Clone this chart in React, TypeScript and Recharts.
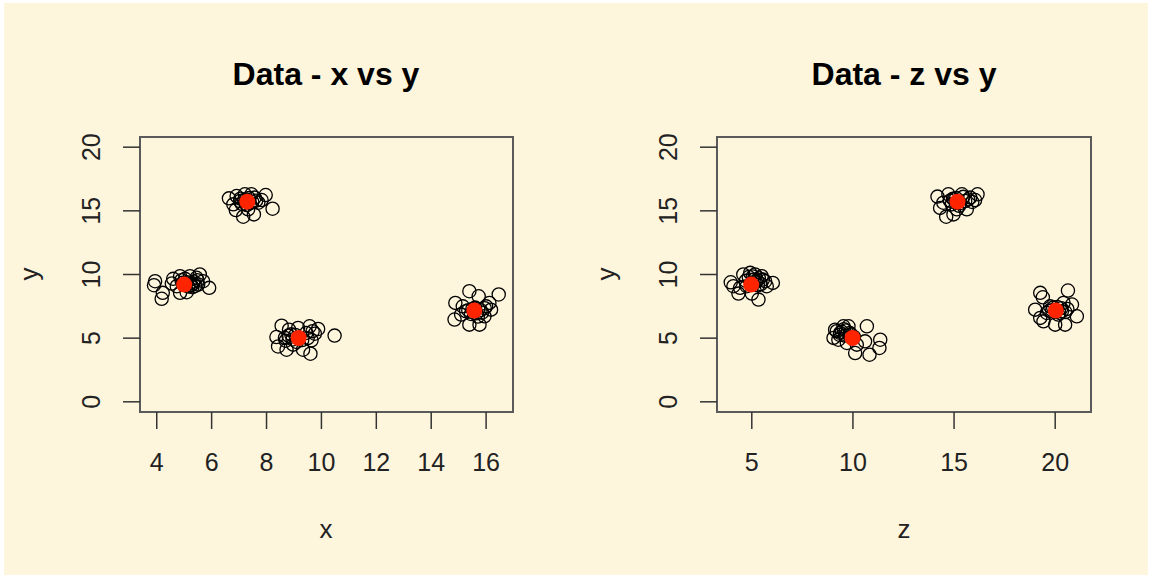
import React from "react";
import { ScatterChart, Scatter, XAxis, YAxis, ReferenceArea } from "recharts";

// ---- Data: panel 1 (x vs y) ----
const xyX = [
  3.94, 3.90, 4.22, 4.18, 4.55, 4.85, 4.85, 5.09, 5.21, 5.57, 5.51, 5.69, 5.91, 5.33, 4.73, 5.03, 5.45, 4.60, 4.95, 5.15, 5.35, 5.25,
  5.40, 5.48, 5.20, 4.90, 5.30, 5.10,
  6.63, 6.88, 7.15, 7.54, 7.97, 8.22, 7.21, 7.03, 7.70, 7.45, 6.79, 7.82, 7.33, 6.91, 7.57, 7.25, 7.40, 7.10,
  7.18, 7.36, 7.48, 7.05, 7.62, 7.28,
  8.55, 8.36, 8.42, 8.73, 8.82, 9.15, 9.57, 9.88, 9.64, 9.33, 9.60, 10.48, 8.97, 8.67, 9.45, 9.76, 9.05, 9.30, 8.90,
  8.80, 8.95, 9.10, 8.70, 9.50, 9.68,
  14.88, 14.85, 15.39, 15.73, 16.46, 16.18, 16.12, 15.76, 15.39, 15.09, 15.15, 15.94, 15.27, 16.00, 15.50, 15.65, 15.80,
  15.45, 15.60, 15.85, 15.35, 15.70, 15.95,
];
const xyY = [
  9.47, 9.16, 8.56, 8.09, 9.29, 9.87, 8.56, 8.61, 9.87, 10.0, 9.21, 9.47, 8.95, 9.29, 9.08, 9.66, 9.74, 9.66, 9.35, 9.05, 9.45, 9.15,
  9.10, 9.55, 9.30, 9.55, 9.00, 9.40,
  15.98, 15.06, 14.54, 14.72, 16.24, 15.17, 16.30, 15.77, 15.64, 16.30, 15.51, 15.85, 15.12, 16.16, 16.04, 15.90, 15.60, 15.55,
  15.85, 16.00, 15.70, 15.95, 15.80, 15.45,
  5.98, 5.09, 4.35, 4.09, 5.67, 5.80, 5.93, 5.72, 4.83, 4.09, 3.78, 5.20, 4.49, 5.02, 5.41, 5.35, 5.25, 4.85, 5.30,
  5.20, 4.90, 4.70, 4.80, 5.00, 5.55,
  7.77, 6.46, 8.69, 8.29, 8.43, 7.24, 7.77, 6.06, 6.06, 6.85, 7.50, 6.72, 7.11, 7.50, 7.30, 6.95, 7.20,
  6.90, 7.40, 7.00, 7.20, 6.70, 7.35,
];

// ---- Data: panel 2 (z vs y) ----
const zyZ = [
  3.96, 4.34, 4.58, 4.92, 5.33, 5.00, 5.74, 6.04, 5.49, 4.09, 4.75, 5.25, 4.42, 5.16, 5.66, 5.10, 5.35, 4.85,
  5.20, 5.45, 4.70, 5.55, 5.05, 5.30,
  14.18, 14.31, 14.61, 14.97, 15.63, 16.16, 16.04, 14.72, 15.39, 15.80, 14.47, 15.14, 15.55, 14.89, 15.00, 15.30, 15.45,
  14.80, 15.10, 15.70, 15.90, 15.25, 14.95,
  9.04, 9.12, 9.53, 9.78, 10.69, 10.60, 10.11, 10.82, 11.35, 11.31, 9.37, 10.19, 9.70, 9.28, 9.45, 9.60, 9.90,
  9.20, 9.35, 9.55, 9.85, 10.05, 9.65,
  19.26, 19.39, 19.01, 19.26, 19.42, 20.00, 20.49, 20.63, 20.83, 21.07, 19.75, 20.33, 19.59, 20.41, 19.90, 20.20, 20.60,
  20.10, 19.85, 20.30, 20.50, 19.70, 20.15,
];
const zyY = [
  9.39, 8.50, 10.0, 10.13, 8.03, 8.50, 9.08, 9.34, 9.87, 9.08, 9.08, 9.55, 8.95, 10.0, 9.47, 9.60, 9.70, 9.80,
  9.40, 9.25, 9.50, 9.60, 9.85, 9.15,
  16.12, 15.23, 14.54, 14.72, 15.12, 16.30, 15.85, 16.30, 16.30, 16.04, 15.64, 15.12, 15.77, 15.51, 15.90, 15.60, 16.10,
  15.80, 16.00, 15.90, 15.70, 15.40, 15.95,
  5.02, 5.67, 5.93, 5.93, 5.93, 4.75, 3.83, 3.70, 4.88, 4.23, 5.41, 4.49, 4.62, 4.88, 5.50, 5.20, 5.30,
  5.55, 5.25, 5.70, 5.40, 5.10, 5.60,
  8.56, 8.21, 7.24, 6.59, 6.32, 6.06, 6.06, 8.74, 7.64, 6.72, 7.50, 7.11, 6.98, 7.77, 7.40, 7.00, 7.30,
  7.45, 7.20, 7.35, 7.05, 7.15, 6.85,
];

// ---- Cluster centres (red) ----
const centerX = [5.0, 7.3, 9.17, 15.57];
const centerZ = [4.97, 15.17, 9.98, 20.03];
const centerY = [9.21, 15.72, 5.01, 7.17];

// ---- Axes ----
const xTicks = [4, 6, 8, 10, 12, 14, 16];
const zTicks = [5, 10, 15, 20];
const yTicks = [0, 5, 10, 15, 20];
const xDomain = [3.39, 16.98];
const zDomain = [3.28, 21.77];
const yDomain = [-0.8, 20.8];

const BG = "rgb(253,245,220)";
const FONT = "'Liberation Sans', Arial, Helvetica, sans-serif";

const pts = (a: number[], b: number[]) => a.map((v, i) => ({ x: v, y: b[i] }));

const OpenCircle = (p: any) => (
  <circle cx={p.cx} cy={p.cy} r={6.6} fill="none" stroke="#000" strokeWidth={1.3} />
);
const RedDot = (p: any) => <circle cx={p.cx} cy={p.cy} r={8} fill="#ff2400" stroke="none" />;

const XTick = (p: any) => (
  <text x={p.x} y={p.y + 40} textAnchor="middle" fontSize={25} fill="#222" fontFamily={FONT}>
    {p.payload.value}
  </text>
);
const YTick = (p: any) => {
  const bx = p.x - 21;
  return (
    <text
      x={bx}
      y={p.y}
      textAnchor="middle"
      fontSize={25}
      fill="#222"
      fontFamily={FONT}
      transform={`rotate(-90, ${bx}, ${p.y})`}
    >
      {p.payload.value}
    </text>
  );
};

type PanelProps = {
  left: number;
  width: number;
  marginLeft: number;
  marginRight: number;
  domain: number[];
  ticks: number[];
  data: { x: number; y: number }[];
  centers: { x: number; y: number }[];
};

const Panel = ({ left, width, marginLeft, marginRight, domain, ticks, data, centers }: PanelProps) => (
  <div style={{ position: "absolute", left, top: 0, width, height: 578 }}>
    <ScatterChart
      width={width}
      height={578}
      margin={{ top: 137, right: marginRight, bottom: 86, left: marginLeft }}
    >
      <XAxis
        type="number"
        dataKey="x"
        domain={domain}
        ticks={ticks}
        allowDataOverflow
        height={80}
        axisLine={false}
        tickSize={17}
        tickMargin={2}
        tickLine={{ stroke: "#333", strokeWidth: 1.5 }}
        tick={<XTick />}
        interval={0}
      />
      <YAxis
        type="number"
        dataKey="y"
        domain={yDomain}
        ticks={yTicks}
        allowDataOverflow
        width={80}
        axisLine={false}
        tickSize={17}
        tickMargin={2}
        tickLine={{ stroke: "#333", strokeWidth: 1.5 }}
        tick={<YTick />}
        interval={0}
      />
      <ReferenceArea
        x1={domain[0]}
        x2={domain[1]}
        y1={yDomain[0]}
        y2={yDomain[1]}
        fill="none"
        fillOpacity={0}
        stroke="#5a5a5a"
        strokeWidth={2}
        ifOverflow="visible"
      />
      <Scatter data={data} shape={OpenCircle} isAnimationActive={false} />
      <Scatter data={centers} shape={RedDot} isAnimationActive={false} />
    </ScatterChart>
  </div>
);

export default function App() {
  const leftData = pts(xyX, xyY);
  const rightData = pts(zyZ, zyY);
  const leftCenters = pts(centerX, centerY);
  const rightCenters = pts(centerZ, centerY);
  return (
    <div style={{ position: "absolute", left: 0, top: 0, width: 1153, height: 578, background: "#fff", overflow: "hidden" }}>
      <div style={{ position: "absolute", left: 4, top: 3, width: 1144, height: 572, background: BG }} />
      <Panel
        left={0}
        width={576}
        marginLeft={60}
        marginRight={63}
        domain={xDomain}
        ticks={xTicks}
        data={leftData}
        centers={leftCenters}
      />
      <Panel
        left={576}
        width={577}
        marginLeft={61}
        marginRight={62}
        domain={zDomain}
        ticks={zTicks}
        data={rightData}
        centers={rightCenters}
      />
      <svg
        width={1153}
        height={578}
        style={{ position: "absolute", left: 0, top: 0, pointerEvents: "none" }}
        fontFamily={FONT}
      >
        <text x={326} y={85} textAnchor="middle" fontSize={32} fontWeight="bold" fill="#000">
          Data - x vs y
        </text>
        <text x={904} y={85} textAnchor="middle" fontSize={32} fontWeight="bold" fill="#000">
          Data - z vs y
        </text>
        <text x={326} y={538} textAnchor="middle" fontSize={26} fill="#222">x</text>
        <text x={904} y={538} textAnchor="middle" fontSize={26} fill="#222">z</text>
        <text x={38} y={274} textAnchor="middle" fontSize={26} fill="#222" transform="rotate(-90, 38, 274)">y</text>
        <text x={615} y={274} textAnchor="middle" fontSize={26} fill="#222" transform="rotate(-90, 615, 274)">y</text>
      </svg>
    </div>
  );
}
